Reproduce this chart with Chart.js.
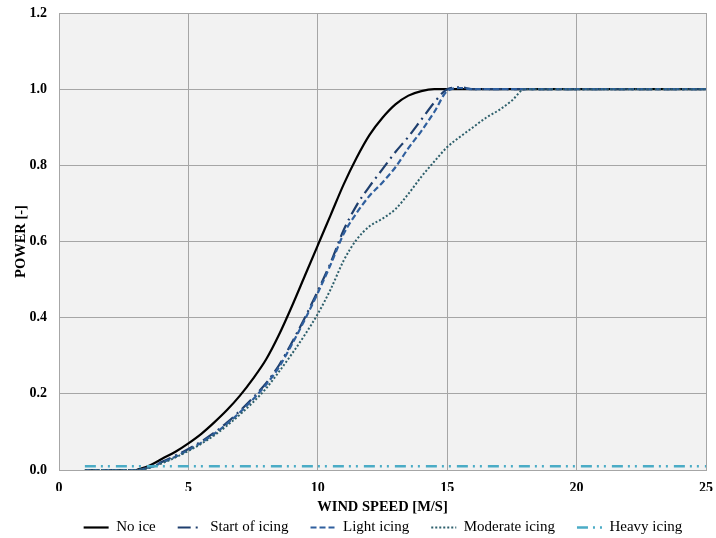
<!DOCTYPE html>
<html><head><meta charset="utf-8">
<script src="https://cdn.jsdelivr.net/npm/chart.js@4/dist/chart.umd.min.js"></script>
<style>html,body{margin:0;padding:0;background:#fff}canvas{display:block}</style>
</head><body>
<canvas id="c" width="716" height="538"></canvas>
<script>
// ---- data ----
const windSpeed = [1,2,3,3.5,4,4.5,5,5.5,6,6.5,7,7.5,8,8.5,9,9.5,10,10.5,11,11.5,12,12.5,13,13.5,14,14.5,15,15.5,16,16.5,17,17.5,18,19,20,21,22,23,24,25];
const noIce = [null,null,0,0.012,0.03,0.048,0.07,0.095,0.125,0.158,0.196,0.24,0.29,0.355,0.43,0.51,0.59,0.67,0.75,0.82,0.88,0.925,0.96,0.983,0.995,1,1,1,1,1,1,1,1,1,1,1,1,1,1,1];
const startOfIcing = [0,0,0,0.008,0.022,0.038,0.055,0.075,0.098,0.125,0.156,0.19,0.228,0.275,0.335,0.40,0.47,0.545,0.63,0.695,0.745,0.79,0.835,0.875,0.92,0.965,1,1.005,1,1,1,1,1,1,1,1,1,1,1,1];
const lightIcing = [0,0,0,0.007,0.02,0.035,0.052,0.072,0.095,0.122,0.152,0.186,0.224,0.27,0.33,0.395,0.465,0.54,0.62,0.675,0.72,0.755,0.795,0.845,0.89,0.94,0.995,1.003,1,1,1,1,1,1,1,1,1,1,1,1];
const moderateIcing = [0,0,0,0.006,0.018,0.033,0.05,0.069,0.091,0.117,0.146,0.178,0.214,0.258,0.305,0.355,0.41,0.475,0.55,0.605,0.64,0.66,0.685,0.725,0.77,0.81,0.848,0.875,0.9,0.925,0.945,0.97,1,1,1,1,1,1,1,1];
const heavyIcing = [0.01,0.01,0.01,0.01,0.01,0.01,0.01,0.01,0.01,0.01,0.01,0.01,0.01,0.01,0.01,0.01,0.01,0.01,0.01,0.01,0.01,0.01,0.01,0.01,0.01,0.01,0.01,0.01,0.01,0.01,0.01,0.01,0.01,0.01,0.01,0.01,0.01,0.01,0.01,0.01];
const seriesNames = ["No ice","Start of icing","Light icing","Moderate icing","Heavy icing"];
const xTickValues = [0,5,10,15,20,25];
const yTickValues = [0,0.2,0.4,0.6,0.8,1.0,1.2];
const xTitle = "WIND SPEED [M/S]";
const yTitle = "POWER [-]";

const toPts = arr => windSpeed.map((x,i)=>({x:x, y:arr[i]}));
const FONT = "'Liberation Serif','Times New Roman',serif";

const styles = [
  {color:'#000000', width:2.2, dash:[]},
  {color:'#1f3f6e', width:2.2, dash:[13,5,2,5]},
  {color:'#2f5f9e', width:2.2, dash:[6,3]},
  {color:'#2d5f6b', width:2, dash:[2,2]},
  {color:'#4bacc6', width:2.6, dash:[11,5,2,5,2,6]}
];
const seriesValues = [noIce,startOfIcing,lightIcing,moderateIcing,heavyIcing];

const datasets = seriesValues.map((arr,i)=>({
  label: seriesNames[i],
  data: toPts(arr),
  borderColor: styles[i].color,
  backgroundColor: styles[i].color,
  borderWidth: styles[i].width,
  borderDash: styles[i].dash,
  pointRadius: 0,
  pointHoverRadius: 0,
  fill: false,
  cubicInterpolationMode: 'monotone',
  order: 5 - i
}));

const bgPlugin = {
  id:'bg',
  beforeDraw(chart){
    const {ctx, chartArea:a} = chart;
    ctx.save();
    ctx.fillStyle='#ffffff';
    ctx.fillRect(0,0,chart.width,chart.height);
    ctx.fillStyle='#f2f2f2';
    ctx.fillRect(a.left,a.top,a.right-a.left,a.bottom-a.top);
    ctx.restore();
  }
};
const legendShift = {
  id:'legendShift',
  afterLayout(chart){
    const l = chart.legend; if(!l) return;
    const DX = 30, DY = 7;
    l.left += DX; l.right += DX; l.top += DY; l.bottom += DY;
  }
};

new Chart(document.getElementById('c'), {
  type:'line',
  data:{datasets},
  plugins:[bgPlugin, legendShift],
  options:{
    responsive:false,
    animation:false,
    layout:{padding:{top:13,right:10,left:0,bottom:0}},
    plugins:{
      tooltip:{enabled:false},
      legend:{
        position:'bottom',
        labels:{
          usePointStyle:true,
          pointStyleWidth:25,
          padding:22,
          color:'#000',
          font:{family:FONT,size:15},
          generateLabels(chart){
            return chart.data.datasets.map((ds,i)=>({
              text: ds.label,
              fillStyle:'rgba(0,0,0,0)',
              strokeStyle: ds.borderColor,
              lineWidth: ds.borderWidth,
              lineDash: ds.borderDash,
              lineCap:'butt',
              pointStyle:'line',
              hidden:false,
              datasetIndex:i,
              fontColor:'#000'
            }));
          }
        }
      }
    },
    scales:{
      x:{
        type:'linear', min:0, max:25,
        afterBuildTicks(s){ s.ticks = xTickValues.map(v=>({value:v})); },
        afterFit(s){ s.height = 21; s.paddingLeft = 0; s.paddingRight = 0; },
        grid:{color:'#a6a6a6', lineWidth:1, drawTicks:false},
        border:{color:'#a6a6a6', width:1},
        ticks:{padding:10, color:'#000', font:{family:FONT,size:14,weight:'bold'}, callback:v=>String(v)},
        title:{display:true, text:xTitle, color:'#000', font:{family:FONT,size:14.5,weight:'bold'}, padding:{top:0,bottom:-24.7}}
      },
      y:{
        type:'linear', min:0, max:1.2,
        afterBuildTicks(s){ s.ticks = yTickValues.map(v=>({value:v})); },
        afterFit(s){ s.width = 59; s.paddingTop = 0; s.paddingBottom = 0; },
        grid:{color:'#a6a6a6', lineWidth:1, drawTicks:false},
        border:{color:'#a6a6a6', width:1},
        ticks:{padding:12, color:'#000', font:{family:FONT,size:14,weight:'bold'}, callback:v=>Number(v).toFixed(1)},
        title:{display:true, text:yTitle, color:'#000', font:{family:FONT,size:14.5,weight:'bold'}, padding:{top:13,bottom:0}}
      }
    }
  }
});
</script>
</body></html>
